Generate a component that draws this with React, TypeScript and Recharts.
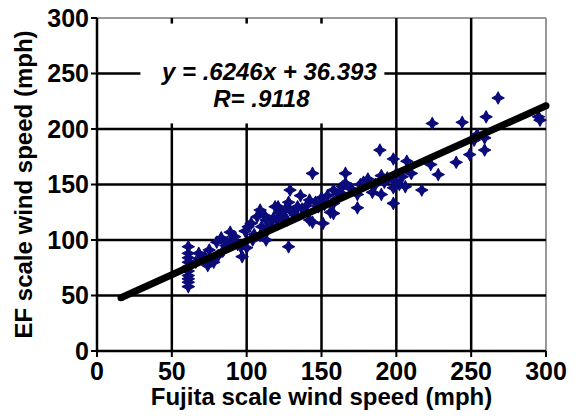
import React from 'react';
import {
  ScatterChart,
  Scatter,
  XAxis,
  YAxis,
  ReferenceLine,
  ReferenceArea,
  Label,
} from 'recharts';

// Fujita (x) vs EF (y) wind speed estimates
const fujitaMph = [
  61, 61, 61, 61, 61, 61, 61, 61, 61, 61,
  66, 68, 70, 72, 74, 75, 76, 78, 80, 81,
  83, 84, 86, 87, 89, 90, 92, 94, 96, 97,
  99, 100, 101, 103, 104, 105, 107, 109, 109, 110,
  112, 113, 113, 114, 116, 118, 119, 120, 121, 122,
  124, 126, 127, 128, 128, 129, 129, 131, 133, 134,
  136, 137, 140, 142, 142, 144, 144, 146, 148, 150,
  151, 152, 154, 156, 158, 158, 158, 160, 162, 164,
  166, 166, 170, 174, 174, 176, 178, 181, 184, 186,
  189, 190, 190, 192, 194, 198, 198, 198, 198, 200,
  202, 204, 206, 207, 210, 217, 223, 224, 228, 240,
  244, 249, 252, 254, 259, 259, 260, 268, 295, 296,
];
const efMph = [
  94, 88, 84, 80, 76, 72, 68, 65, 62, 58,
  80, 88, 84, 85, 77, 91, 82, 80, 98, 86,
  102, 90, 95, 98, 107, 100, 103, 96, 94, 85,
  108, 93, 112, 115, 100, 105, 121, 127, 104, 112,
  122, 118, 100, 109, 113, 120, 130, 118, 130, 125,
  121, 128, 118, 134, 94, 145, 127, 125, 122, 130,
  140, 128, 131, 136, 118, 160, 116, 134, 130, 138,
  115, 132, 140, 125, 145, 133, 124, 137, 143, 148,
  160, 151, 146, 141, 129, 150, 152, 155, 143, 150,
  181, 158, 141, 152, 156, 173, 154, 147, 133, 160,
  150, 157, 148, 171, 160, 145, 168, 205, 159, 170,
  206, 177, 190, 195, 192, 181, 211, 228, 211, 208,
];

// trend line ends as drawn
const fitX = [16, 300];
const fitY = [48, 221];

const axisTicks = [0, 50, 100, 150, 200, 250, 300];
const gridValues = [50, 100, 150, 200, 250];

// white box behind the equation (axis units)
const boxX = [29, 192];
const boxY = [205, 295];

const points = fujitaMph.map((x, i) => ({ x, y: efMph[i] }));
const fitLine = fitX.map((x, i) => ({ x, y: fitY[i] }));

const FONT = '"Liberation Sans", Arial, sans-serif';
const NAVY = '#0b0b7a';

// a grid line is cut where it runs under the equation box
const hSegments = gridValues.flatMap((y) =>
  y > boxY[0] && y < boxY[1]
    ? [
        [{ x: 0, y }, { x: boxX[0], y }],
        [{ x: boxX[1], y }, { x: 300, y }],
      ]
    : [[{ x: 0, y }, { x: 300, y }]]
);
const vSegments = gridValues.flatMap((x) =>
  x > boxX[0] && x < boxX[1]
    ? [
        [{ x, y: 0 }, { x, y: boxY[0] }],
        [{ x, y: boxY[1] }, { x, y: 300 }],
      ]
    : [[{ x, y: 0 }, { x, y: 300 }]]
);

const StarMark = (props: any) => {
  const { cx, cy } = props;
  if (cx == null || cy == null) return <g />;
  const o = 6;
  const n = 2.1;
  const d = `M${cx - o},${cy} L${cx - n},${cy - n} L${cx},${cy - o} L${cx + n},${cy - n} L${cx + o},${cy} L${cx + n},${cy + n} L${cx},${cy + o} L${cx - n},${cy + n} Z`;
  return <path d={d} fill={NAVY} stroke={NAVY} strokeWidth={1.2} strokeLinejoin="round" />;
};

const EndCap = (props: any) => {
  const { cx, cy } = props;
  if (cx == null || cy == null) return <g />;
  return <circle cx={cx} cy={cy} r={3.5} fill="#000" />;
};

const EquationBox = (props: any) => {
  const vb = props.viewBox || { x: 0, y: 0 };
  const style = { fontFamily: FONT, fontWeight: 700, fontStyle: 'italic' as const, fontSize: 24, fill: '#000' };
  return (
    <g>
      <text x={vb.x + 129} y={vb.y + 56} textAnchor="middle" style={style}>
        y = .6246x + 36.393
      </text>
      <text x={vb.x + 121} y={vb.y + 83} textAnchor="middle" style={style}>
        R= .9118
      </text>
    </g>
  );
};

const YTitle = (props: any) => {
  const vb = props.viewBox || { x: 0, y: 0, height: 0 };
  const cy = vb.y + vb.height / 2;
  return (
    <text
      x={32}
      y={cy}
      transform={`rotate(-90 32 ${cy})`}
      textAnchor="middle"
      style={{ fontFamily: FONT, fontWeight: 700, fontSize: 24, fill: '#000' }}
    >
      EF scale wind speed (mph)
    </text>
  );
};

const tickStyle = { fontFamily: FONT, fontWeight: 700, fontSize: 25, fill: '#000' };

export default function App() {
  return (
    <div style={{ position: 'fixed', left: 0, top: 0, width: 581, height: 419, background: '#fff' }}>
      <ScatterChart width={581} height={419} margin={{ top: 18, right: 35, bottom: 0, left: 0 }}>
        <ReferenceLine y={300} stroke="#777" strokeWidth={1.5} />
        <ReferenceLine x={300} stroke="#777" strokeWidth={1.5} />
        {hSegments.map((seg, i) => (
          <ReferenceLine key={`h${i}`} segment={seg} stroke="#000" strokeWidth={2.5} />
        ))}
        {vSegments.map((seg, i) => (
          <ReferenceLine key={`v${i}`} segment={seg} stroke="#000" strokeWidth={2.5} />
        ))}
        <ReferenceArea
          x1={boxX[0]}
          x2={boxX[1]}
          y1={boxY[0]}
          y2={boxY[1]}
          fill="#fff"
          fillOpacity={0}
          stroke="none"
          label={<EquationBox />}
        />
        <XAxis
          type="number"
          dataKey="x"
          domain={[0, 300]}
          ticks={axisTicks}
          interval={0}
          height={68}
          axisLine={{ stroke: '#000', strokeWidth: 2.5 }}
          tickLine={{ stroke: '#000', strokeWidth: 2 }}
          tickSize={6}
          tickMargin={5}
          tick={tickStyle}
        >
          <Label
            value="Fujita scale wind speed (mph)"
            position="insideBottom"
            offset={14}
            style={{ fontFamily: FONT, fontWeight: 700, fontSize: 24, fill: '#000' }}
          />
        </XAxis>
        <YAxis
          type="number"
          dataKey="y"
          domain={[0, 300]}
          ticks={axisTicks}
          interval={0}
          width={97}
          axisLine={{ stroke: '#000', strokeWidth: 2.5 }}
          tickLine={{ stroke: '#000', strokeWidth: 2 }}
          tickSize={6}
          tickMargin={2}
          tick={tickStyle}
        >
          <Label content={<YTitle />} />
        </YAxis>
        <Scatter data={points} shape={<StarMark />} isAnimationActive={false} />
        <Scatter
          data={fitLine}
          line={{ stroke: '#000', strokeWidth: 7 }}
          shape={<EndCap />}
          isAnimationActive={false}
        />
      </ScatterChart>
    </div>
  );
}
